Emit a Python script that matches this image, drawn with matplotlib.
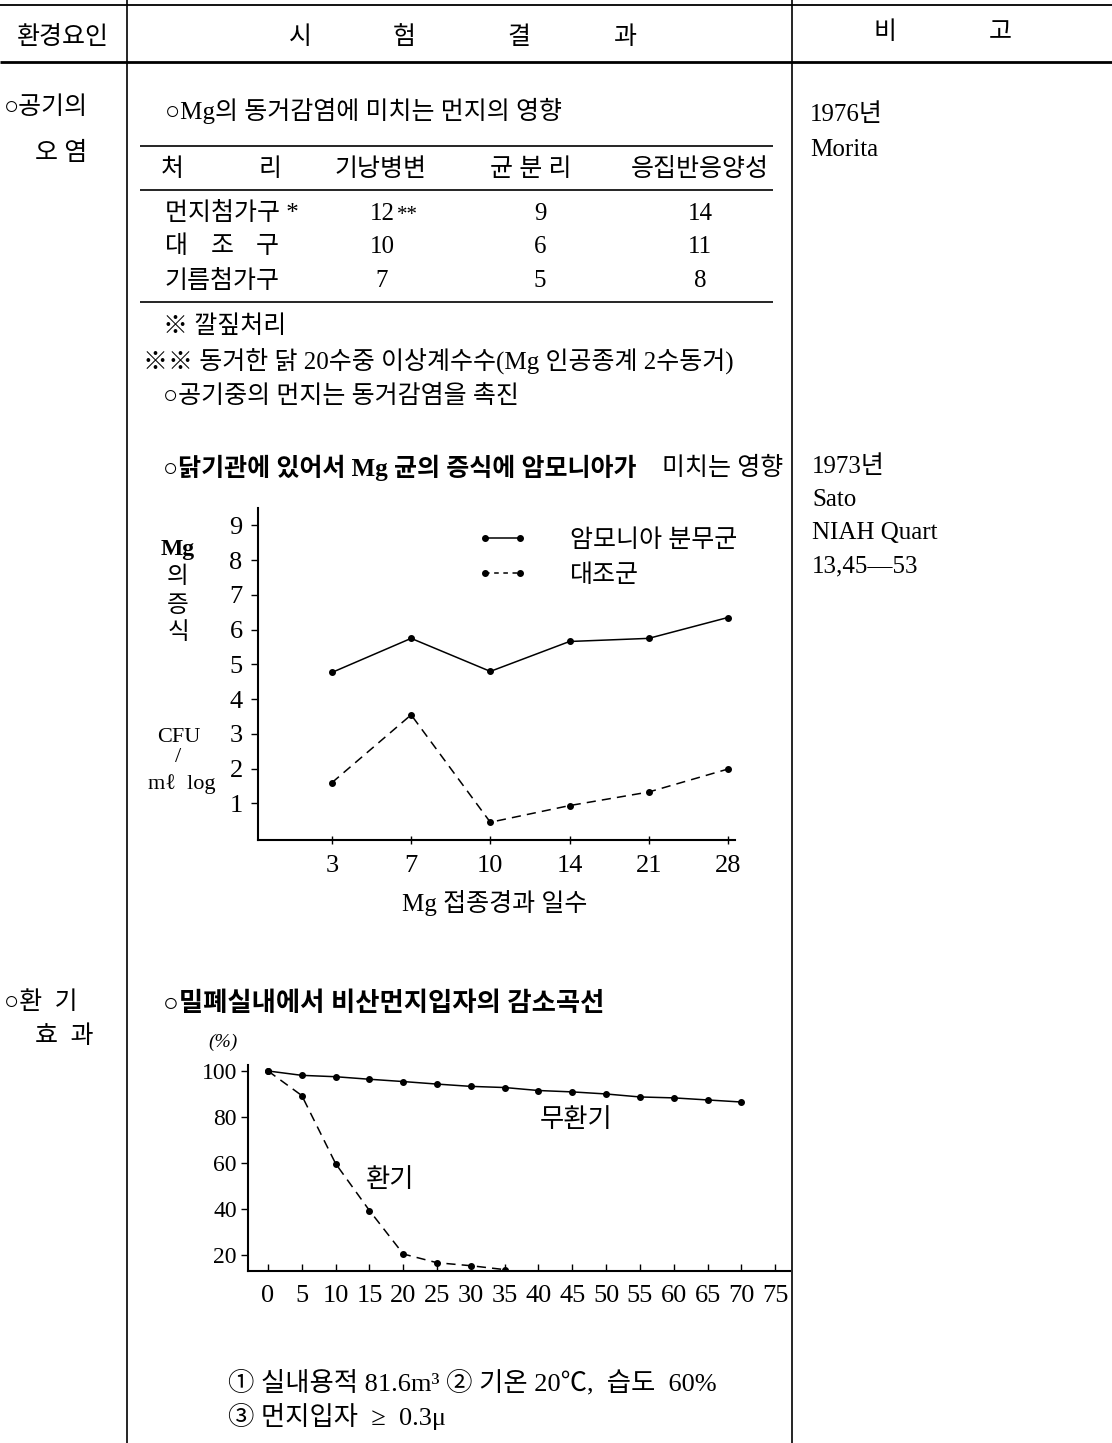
import matplotlib
matplotlib.use("Agg")
import matplotlib.pyplot as plt
from matplotlib.lines import Line2D

plt.rcParams['font.family'] = ['Liberation Serif', 'Noto Sans CJK KR']

# ---------------- data ----------------
header_left = '환경요인'
header_mid = ['시', '험', '결', '과']
header_right = ['비', '고']

table_title = '○Mg의 동거감염에 미치는 먼지의 영향'
table_cols = ['기낭병변', '균 분 리', '응집반응양성']
table_rows = ['먼지첨가구 *', '대  조  구', '기름첨가구']
lesion = ['12', '10', '7']
isolation = ['9', '6', '5']
agglutination = ['14', '11', '8']

days = ['3', '7', '10', '14', '21', '28']
ammonia = [4.77, 5.75, 4.80, 5.66, 5.75, 6.35]
control = [1.60, 3.55, 0.46, 0.94, 1.33, 1.99]
series1_names = ['암모니아 분무군', '대조군']

minutes = [0, 5, 10, 15, 20, 25, 30, 35, 40, 45, 50, 55, 60, 65, 70]
no_vent = [100, 98.1, 97.5, 96.4, 95.4, 94.3, 93.3, 92.8, 91.5, 90.9, 90.0, 88.7, 88.3, 87.4, 86.5]
vent_minutes = [0, 5, 10, 15, 20, 25, 30, 35]
vent = [100, 89.3, 59.7, 39.3, 20.4, 16.6, 15.3, 13.6]
min_ticks = [0, 5, 10, 15, 20, 25, 30, 35, 40, 45, 50, 55, 60, 65, 70, 75]
pct_ticks = [20, 40, 60, 80, 100]

W, H = 1112, 1443
FS = 18
fig = plt.figure(figsize=(W / 100, H / 100), dpi=100)

# overlay axes in pixel coordinates
ov = fig.add_axes([0, 0, 1, 1], zorder=0)
ov.set_xlim(0, W)
ov.set_ylim(H, 0)
ov.axis('off')

def T(x, y, s, size=FS, ha='left', va='center', **kw):
    ov.text(x, y, s, fontsize=size, ha=ha, va=va, color='black', **kw)

lk = dict(color='black', solid_capstyle='butt')
# page frame
ov.plot([0, W], [5, 5], lw=1.3, **lk)
ov.plot([0, W], [62, 62], lw=2.0, **lk)
ov.plot([127, 127], [0, H], lw=1.2, **lk)
ov.plot([792, 792], [0, H], lw=1.2, **lk)

# header
T(63, 37, header_left, ha='center')
for x, s in zip([300, 404, 519, 625], header_mid):
    T(x, 38, s, ha='center')
for x, s in zip([885, 1000], header_right):
    T(x, 33, s, ha='center')

# section 1
T(4, 108, '○공기의')
T(35, 153, '오 염')
T(165, 111, table_title)
T(810, 115, '1976년')
T(810, 150, 'Morita')

ov.plot([140, 773], [146, 146], lw=1.2, **lk)
ov.plot([140, 773], [190, 190], lw=1.2, **lk)
ov.plot([140, 773], [302, 302], lw=1.2, **lk)
T(172, 170, '처', ha='center')
T(270, 170, '리', ha='center')
for x, s in zip([381, 531, 700], table_cols):
    T(x, 170, s, ha='center')
for i, y in enumerate([214, 247, 281]):
    if i == 1:
        for x, ch in zip([176, 222, 267], table_rows[i].split()):
            T(x, y, ch, ha='center')
    else:
        T(165, y, table_rows[i])
    T(382, y, lesion[i], ha='center')
    T(540, y, isolation[i], ha='center')
    T(700, y, agglutination[i], ha='center')
T(397, 216, '**', size=15)

T(163, 327, '※ 깔짚처리')
T(143, 362, '※※ 동거한 닭 20수중 이상계수수(Mg 인공종계 2수동거)')
T(163, 396, '○공기중의 먼지는 동거감염을 촉진')

# section 2
T(163, 468, '○닭기관에 있어서 Mg 균의 증식에 암모니아가', fontweight='bold')
T(662, 468, '미치는 영향')
T(812, 467, '1973년')
T(812, 500, 'Sato')
T(812, 533, 'NIAH Quart')
T(812, 566, '13,45—53')

T(178, 549, 'Mg', ha='center', fontweight='bold', size=17)
for y, s in zip([577, 606, 633], ['의', '증', '식']):
    T(178, y, s, ha='center', size=17)
T(179, 738, 'CFU', ha='center', size=16)
T(178, 758, '/', ha='center', size=16)
T(182, 784, 'mℓ  log', ha='center', size=16)
T(495, 903, 'Mg 접종경과 일수', ha='center')

# section 3
T(4, 1003, '○환  기')
T(35, 1037, '효  과')
T(163, 1004, '○밀폐실내에서 비산먼지입자의 감소곡선', size=19, fontweight='bold')
T(208, 1042, '(%)', size=14, style='italic')
T(228, 1383, '① 실내용적 81.6m³ ② 기온 20℃,  습도  60%', size=19)
T(228, 1416, '③ 먼지입자  ≥  0.3μ', size=19)

# ---------------- chart 1 ----------------
def rect(l, r, t, b):
    return [l / W, 1 - b / H, (r - l) / W, (b - t) / H]

ax1 = fig.add_axes(rect(258, 735, 508, 840), zorder=2)
ax1.patch.set_alpha(0)
pos = list(range(len(days)))
ax1.plot(pos, ammonia, '-', color='black', lw=1.1, marker='o', ms=4)
ax1.plot(pos, control, color='black', lw=1.1, ls=(0, (6, 4)), marker='o', ms=4)
ax1.set_xlim(-0.934, 5.09)
ax1.set_ylim(-0.05, 9.5)
ax1.set_xticks(pos)
ax1.set_xticklabels(days)
ax1.set_yticks(range(1, 10))
for s in ['top', 'right']:
    ax1.spines[s].set_visible(False)
for s in ['left', 'bottom']:
    ax1.spines[s].set_linewidth(1.5)
ax1.tick_params(axis='y', direction='out', length=5, width=1, labelsize=19, pad=6)
ax1.tick_params(axis='x', direction='inout', length=6, width=1, labelsize=19, pad=8)

handles = [Line2D([], [], color='black', lw=1.1, marker='o', ms=4),
           Line2D([], [], color='black', lw=1.1, ls=(0, (3, 3)), marker='o', ms=4)]
leg = ax1.legend(handles, series1_names, loc='center left',
                 bbox_to_anchor=(477 / W, 1 - 558 / H), bbox_transform=fig.transFigure,
                 frameon=False, numpoints=2, handlelength=2.0, handletextpad=1.7,
                 labelspacing=0.5, borderpad=0, borderaxespad=0,
                 prop={'size': 18, 'family': ['Liberation Serif', 'Noto Sans CJK KR']})

# ---------------- chart 2 ----------------
ax2 = fig.add_axes(rect(248, 790, 1065, 1271), zorder=2)
ax2.patch.set_alpha(0)
ax2.plot(minutes, no_vent, '-', color='black', lw=1.1, marker='o', ms=4)
ax2.plot(vent_minutes, vent, color='black', lw=1.1, ls=(0, (6, 4)), marker='o', ms=4)
ax2.set_xlim(-2.96, 77.2)
ax2.set_ylim(13.0, 102.6)
ax2.set_xticks(min_ticks)
ax2.set_yticks(pct_ticks)
for s in ['top', 'right']:
    ax2.spines[s].set_visible(False)
for s in ['left', 'bottom']:
    ax2.spines[s].set_linewidth(1.5)
ax2.tick_params(axis='y', direction='out', length=5, width=1, labelsize=17, pad=3)
ax2.tick_params(axis='x', direction='in', length=5, width=1, labelsize=19, pad=10)
ax2.text(45.6, 78.7, '무환기', fontsize=19, ha='center', va='center')
ax2.text(18.0, 52.6, '환기', fontsize=19, ha='center', va='center')

fig.savefig('out.png', dpi=100)
